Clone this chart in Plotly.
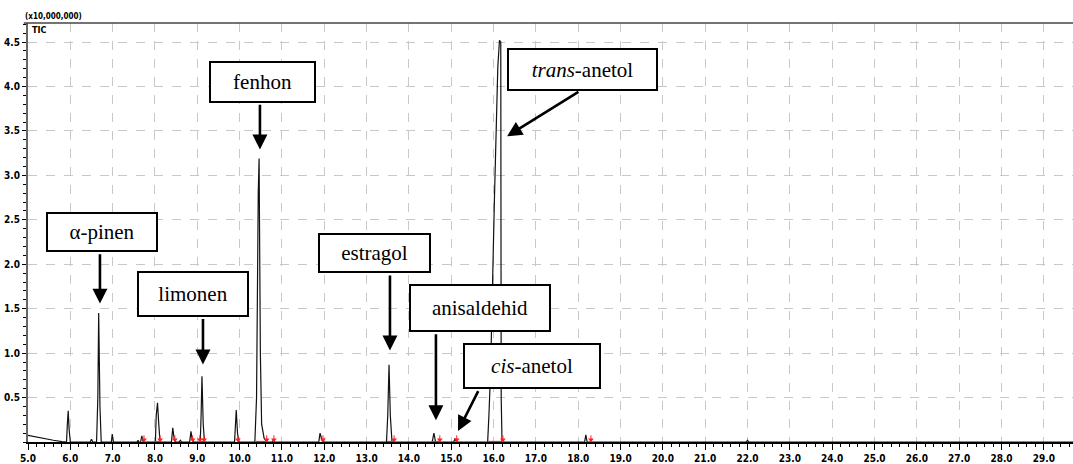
import plotly.graph_objects as go

# ---- chromatogram (TIC, x10,000,000) ----
rt = [5.00, 5.20, 5.40, 5.60, 5.80, 5.88,
      5.91, 5.93, 5.95, 5.97, 6.00,
      6.47, 6.50, 6.53,
      6.62, 6.65, 6.67, 6.70, 6.73,
      6.97, 6.99, 7.02,
      7.58, 7.60, 7.62,
      7.66, 7.69, 7.72,
      8.01, 8.03, 8.06, 8.09, 8.12,
      8.39, 8.42, 8.45, 8.48,
      8.57, 8.60, 8.63,
      8.82, 8.85, 8.88, 8.91,
      9.07, 9.09, 9.11, 9.14, 9.17,
      9.88, 9.90, 9.92, 9.95, 9.98,
      10.36, 10.40, 10.44, 10.46, 10.49, 10.52, 10.58, 10.65,
      10.78, 10.80, 10.83,
      11.87, 11.90, 11.93, 11.96,
      13.47, 13.50, 13.53, 13.56, 13.60,
      14.55, 14.59, 14.63,
      15.06, 15.09, 15.12,
      15.86, 15.89, 15.93, 16.02, 16.06, 16.10, 16.14, 16.17, 16.18, 16.20,
      18.15, 18.18, 18.21,
      21.97, 22.00, 22.03,
      29.70]
tic = [0.075, 0.055, 0.035, 0.020, 0.005, 0.0,
       0.0, 0.20, 0.35, 0.15, 0.0,
       0.0, 0.03, 0.0,
       0.0, 0.50, 1.45, 0.40, 0.0,
       0.0, 0.09, 0.0,
       0.0, 0.02, 0.0,
       0.0, 0.07, 0.0,
       0.0, 0.30, 0.44, 0.20, 0.0,
       0.0, 0.16, 0.05, 0.0,
       0.0, 0.02, 0.0,
       0.0, 0.12, 0.03, 0.0,
       0.0, 0.30, 0.74, 0.20, 0.0,
       0.0, 0.25, 0.36, 0.10, 0.0,
       0.0, 0.50, 2.80, 3.19, 1.00, 0.20, 0.04, 0.0,
       0.0, 0.03, 0.0,
       0.0, 0.10, 0.04, 0.0,
       0.0, 0.30, 0.87, 0.30, 0.0,
       0.0, 0.10, 0.0,
       0.0, 0.04, 0.0,
       0.0, 0.30, 0.80, 2.73, 3.54, 4.22, 4.52, 4.50, 0.50, 0.0,
       0.0, 0.08, 0.0,
       0.0, 0.02, 0.0,
       0.0]

# integration marks (red)
mark_rt = [7.74, 8.12, 8.47, 8.89, 9.06, 9.16, 9.96, 10.64, 10.81, 11.97,
           13.65, 14.73, 15.13, 16.22, 18.30]
base_start = [8.00, 9.04, 10.38, 13.48, 14.55, 15.86]
base_end = [8.12, 9.20, 10.65, 13.65, 14.73, 16.22]

# compound labels
labels = ["α-pinen", "limonen", "fenhon", "<i>trans</i>-anetol", "estragol",
          "anisaldehid", "<i>cis</i>-anetol"]

x_ticks = [v / 1.0 for v in range(5, 30)]
x_ticktext = [f"<b>{v:.1f}</b>" for v in x_ticks]
y_ticks = [0.5, 1.0, 1.5, 2.0, 2.5, 3.0, 3.5, 4.0, 4.5]
y_ticktext = [f"<b>{v:.1f}</b>" for v in y_ticks]

# ---- figure ----
fig = go.Figure()

fig.add_trace(go.Scatter(x=rt, y=tic, mode="lines",
                         line=dict(color="#111111", width=1.2),
                         hoverinfo="skip", showlegend=False))

bx, by = [], []
for s, e in zip(base_start, base_end):
    bx += [s, e, None]
    by += [0.004, 0.004, None]
fig.add_trace(go.Scatter(x=bx, y=by, mode="lines",
                         line=dict(color="#ff2020", width=1.5),
                         hoverinfo="skip", showlegend=False))

mx, my = [], []
for m in mark_rt:
    mx += [m, m, None]
    my += [0.0, 0.075, None]
fig.add_trace(go.Scatter(x=mx, y=my, mode="lines",
                         line=dict(color="#ff2020", width=1),
                         hoverinfo="skip", showlegend=False))
fig.add_trace(go.Scatter(x=mark_rt, y=[0.025] * len(mark_rt), mode="markers",
                         marker=dict(symbol="triangle-down", size=5, color="#ff2020"),
                         hoverinfo="skip", showlegend=False))

tick_font = dict(family="'Liberation Sans Narrow', 'Arial Narrow', 'DejaVu Sans Condensed', Arial, sans-serif",
                 size=10, color="#000000")
label_font = dict(family="'Liberation Serif', 'Times New Roman', Times, 'DejaVu Serif', serif",
                  size=21, color="#000")

fig.update_layout(
    width=1073, height=464,
    margin=dict(l=28, r=0, t=23, b=20),
    paper_bgcolor="white", plot_bgcolor="white",
    showlegend=False,
    xaxis=dict(range=[5.0, 29.69], tickvals=x_ticks, ticktext=x_ticktext,
               ticks="outside", ticklen=6, tickwidth=1, tickcolor="#000",
               showline=True, linecolor="#000", linewidth=2,
               showgrid=True, gridcolor="#c8c8c8", griddash="dash", gridwidth=1,
               zeroline=False, tickfont=tick_font,
               minor=dict(dtick=0.2, tick0=5.0, ticks="outside", ticklen=3,
                          tickcolor="#000", showgrid=False)),
    yaxis=dict(range=[0, 4.714], tickvals=y_ticks, ticktext=y_ticktext,
               ticks="outside", ticklen=4, tickwidth=1, tickcolor="#000",
               showline=True, linecolor="#666", linewidth=2,
               showgrid=True, gridcolor="#c8c8c8", griddash="dash", gridwidth=1,
               zeroline=False, tickfont=tick_font,
               minor=dict(dtick=0.1, tick0=0, ticks="outside", ticklen=3,
                          tickcolor="#000", showgrid=False)),
)

# frame line on top
fig.add_shape(type="line", xref="paper", yref="paper", x0=-0.004, x1=1, y0=1, y1=1,
              line=dict(color="#444", width=1.5))

fig.add_annotation(xref="paper", yref="paper", x=-0.005, y=1.0, xanchor="left", yanchor="bottom",
                   text="<b>(x10,000,000)</b>", showarrow=False,
                   font=dict(family=tick_font["family"], size=8, color="#000"))
fig.add_annotation(xref="paper", yref="paper", x=0.002, y=1.0, xanchor="left", yanchor="top",
                   text="<b>TIC</b>", showarrow=False,
                   font=dict(family=tick_font["family"], size=9, color="#000"))

# arrows: (tail_x, tail_y) -> (tip_x, tip_y)
arrows = [
    (6.70, 2.13, 6.70, 1.557),
    (9.134, 1.40, 9.134, 0.873),
    (10.48, 3.81, 10.48, 3.29),
    (18.04, 3.95, 16.32, 3.44),
    (13.552, 1.89, 13.552, 1.03),
    (14.638, 1.23, 14.638, 0.246),
    (15.655, 0.59, 15.16, 0.123),
]
for tx, ty, hx, hy in arrows:
    fig.add_annotation(x=hx, y=hy, ax=tx, ay=ty, xref="x", yref="y", axref="x", ayref="y",
                       text="", showarrow=True, arrowhead=2, arrowsize=1.15,
                       arrowwidth=2.6, arrowcolor="#000", standoff=0, startstandoff=0)

# label boxes: centre (x, y) and pixel size
boxes = [
    (6.748, 2.363, 112, 40),
    (8.898, 1.669, 112, 46),
    (10.54, 4.054, 107, 42),
    (18.10, 4.194, 151, 43),
    (13.186, 2.128, 113, 40),
    (15.678, 1.512, 142, 48),
    (16.907, 0.851, 138, 46),
]
for lab, (cx, cy, w, h) in zip(labels, boxes):
    fig.add_annotation(x=cx, y=cy, xref="x", yref="y", text=lab, showarrow=False,
                       width=w - 4, height=h - 4, borderpad=0, borderwidth=2,
                       bordercolor="#000", bgcolor="white", font=label_font)

fig.write_html("out.html")
